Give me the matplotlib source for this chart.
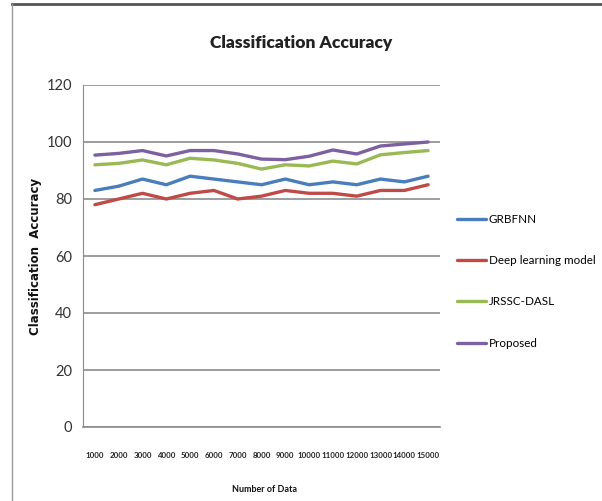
import matplotlib
matplotlib.use("Agg")
import matplotlib.pyplot as plt
from matplotlib.lines import Line2D

# data
data_sizes = ["1000", "2000", "3000", "4000", "5000", "6000", "7000", "8000",
              "9000", "10000", "11000", "12000", "13000", "14000", "15000"]
grbfnn = [83, 84.5, 87, 85, 88, 87, 86, 85, 87, 85, 86, 85, 87, 86, 88]
deep_learning = [78, 80, 82, 80, 82, 83, 80, 81, 83, 82, 82, 81, 83, 83, 85]
jrssc_dasl = [92, 92.5, 93.7, 92, 94.3, 93.7, 92.5, 90.5, 92, 91.6, 93.3, 92.3, 95.5, 96.3, 97]
proposed = [95.4, 96, 97, 95.1, 97, 97, 95.8, 94, 93.8, 95, 97.2, 95.8, 98.6, 99.3, 100]

series = [
    ("GRBFNN", grbfnn, "#4a7ebb"),
    ("Deep learning model", deep_learning, "#be4b48"),
    ("JRSSC-DASL", jrssc_dasl, "#98b954"),
    ("Proposed", proposed, "#7d60a0"),
]

plt.rcParams["font.family"] = ["Lato", "DejaVu Sans"]

fig = plt.figure(figsize=(6.02, 5.01), dpi=100)
ax = fig.add_axes([83 / 602, 74 / 501, 357 / 602, 342 / 501])

x = list(range(len(data_sizes)))
for name, vals, col in series:
    ax.plot(x, vals, color=col, lw=2.4, label=name, solid_capstyle="round")

ax.set_xlim(-0.5, len(data_sizes) - 0.5)
ax.set_ylim(0, 120)
ax.set_yticks(range(0, 121, 20))
ax.set_xticks(x)
ax.set_xticklabels(data_sizes, fontsize=5.7, fontweight="bold", color="#222222")
ax.tick_params(axis="x", length=0, pad=18)
ax.tick_params(axis="y", length=0, pad=8, labelsize=10.5, labelcolor="#333333")
ax.grid(axis="y", color="#8c8c8c", lw=1.2)
ax.set_axisbelow(True)
for side in ["top", "right"]:
    ax.spines[side].set_visible(False)
ax.spines["left"].set_color("#8c8c8c")
ax.spines["bottom"].set_color("#8c8c8c")
ax.spines["bottom"].set_linewidth(1.2)

fig.text(0.5, 0.915, "Classification Accuracy", ha="center", va="center",
         fontsize=12.5, fontweight="heavy", color="#222222")
fig.text(36 / 602, 1 - 256 / 501, "Classification  Accuracy", rotation=90,
         ha="center", va="center", fontsize=8.5, fontweight="bold",
         family=["DejaVu Sans"], color="#111111")
fig.text(264 / 602, 1 - 489 / 501, "Number of Data", ha="center", va="center",
         fontsize=6.5, fontweight="bold", color="#111111")

ax.legend(loc="upper left", bbox_to_anchor=(1.035, 0.637), frameon=False,
          fontsize=8.4, handlelength=2.5, handletextpad=0.2, labelspacing=2.6,
          borderaxespad=0)

# outer chart frame (top and left edges)
fig.add_artist(Line2D([12 / 602, 1], [1 - 4 / 501, 1 - 4 / 501],
                      transform=fig.transFigure, color="#555555", lw=2))
fig.add_artist(Line2D([12 / 602, 12 / 602], [0, 1 - 4 / 501],
                      transform=fig.transFigure, color="#999999", lw=1))

fig.savefig("out.png", dpi=100)
